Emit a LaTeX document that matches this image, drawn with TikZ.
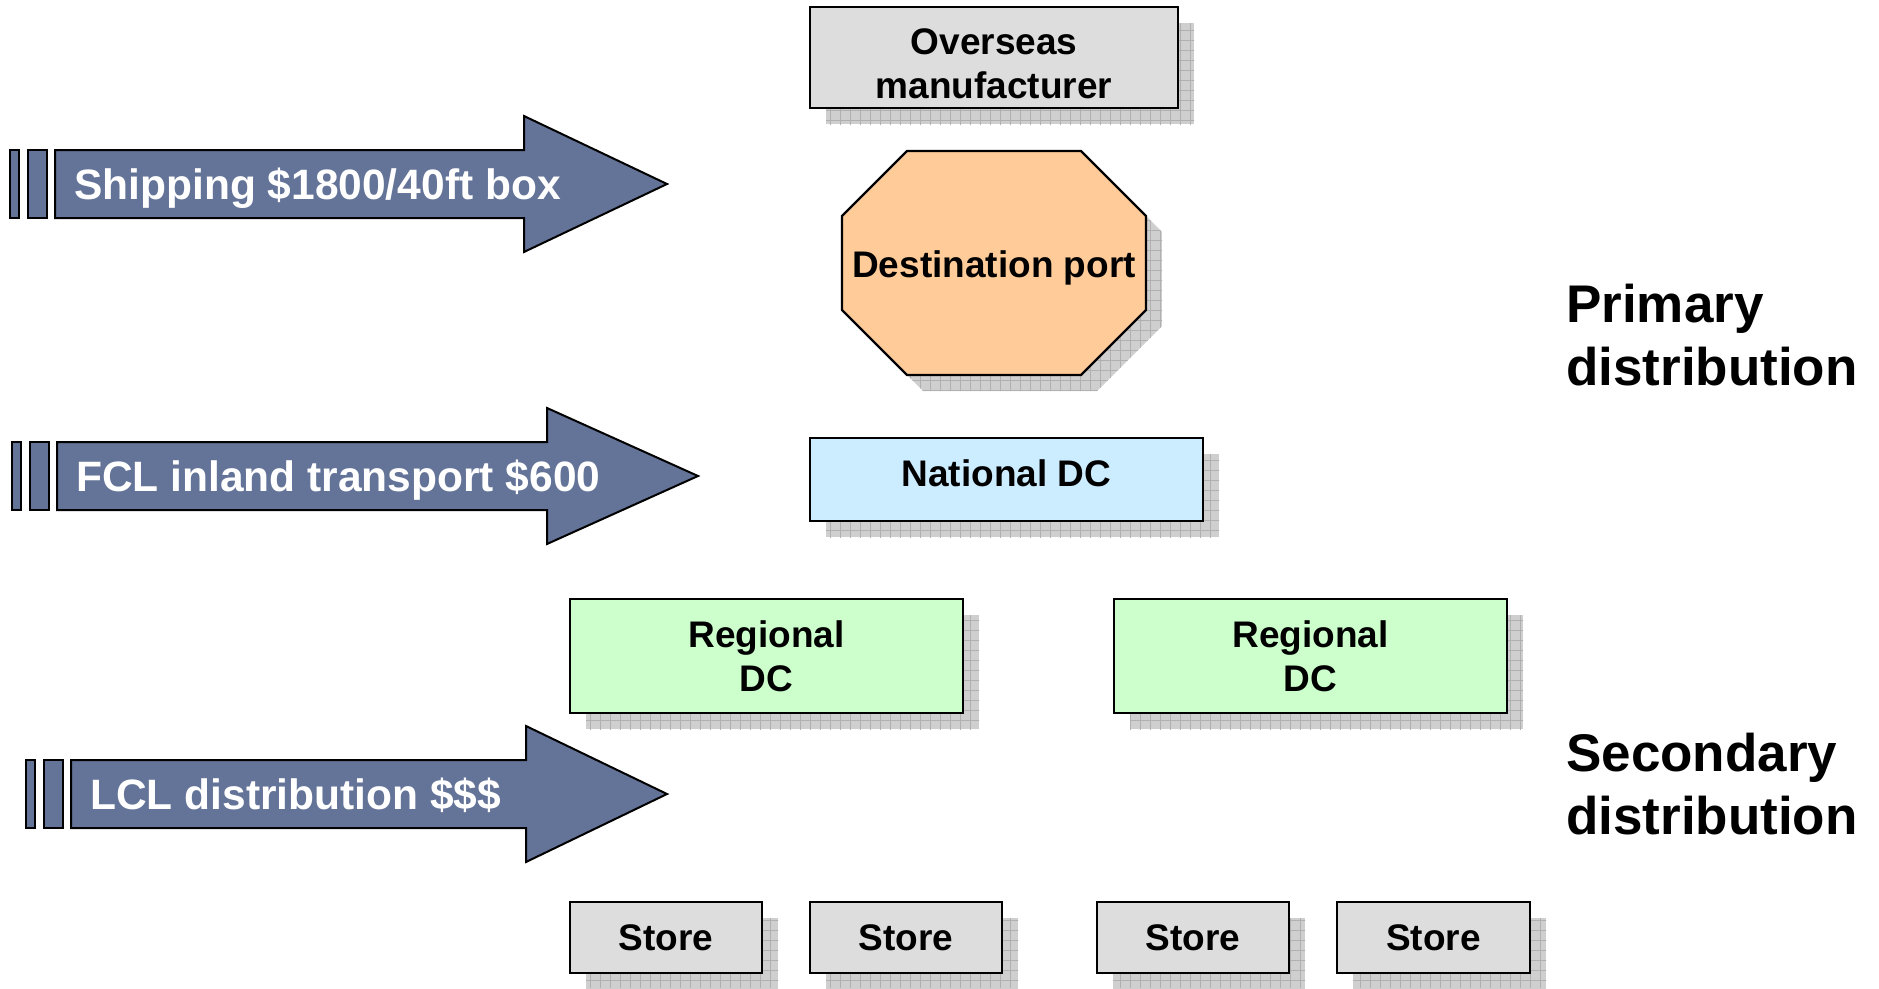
\documentclass[tikz,border=0pt]{standalone}
\usepackage{fontspec}
\setmainfont{Liberation Sans}
\definecolor{boxgray}{RGB}{221,221,221}
\definecolor{portorange}{RGB}{255,204,153}
\definecolor{natblue}{RGB}{204,236,255}
\definecolor{reggreen}{RGB}{204,255,204}
\definecolor{costblue}{RGB}{100,115,152}
\def\shoff{16}
\def\yRow{902}
\def\yEnd{973}
\tikzset{
  dnbox/.style={draw, line width=2.2pt, font=\bfseries\fontsize{37}{44}\selectfont, align=center, inner sep=0pt},
  dnshadow/.style={fill=gray!38},
  dngrid/.style={draw=gray!62, line width=0.5pt},
  costbar/.style={draw, line width=2pt, fill=costblue},
  costlbl/.style={text=white, font=\bfseries\fontsize{42.5}{50}\selectfont, inner sep=0pt, anchor=base west},
  sidelbl/.style={font=\bfseries\fontsize{53}{63}\selectfont, align=left, inner sep=0pt, anchor=north west},
}
\newcommand{\dnshade}[1]{%
  \begin{scope}
    \clip #1;
    \fill[dnshadow] #1;
    \draw[dngrid, step=10pt] (0,988) grid (1879,0);
  \end{scope}}
\newcommand{\dnnode}[8][]{%
  \dnshade{(#3+\shoff,#4+\shoff) rectangle (#5+\shoff,#6+\shoff)}
  \node[dnbox, fill=#7, minimum width={#5-#3}, minimum height={#6-#4}, #1] (#2) at ({(#3+#5)/2},{(#4+#6)/2}) {#8};}
\newcommand{\costarrow}[6]{%
  \draw[costbar] (#2-45,#3-34) rectangle (#2-36,#3+34);
  \draw[costbar] (#2-27,#3-34) rectangle (#2-8,#3+34);
  \draw[costbar] (#2,#3-34) -- (#4,#3-34) -- (#4,#3-68) -- (#5,#3) -- (#4,#3+68) -- (#4,#3+34) -- (#2,#3+34) -- cycle;
  \node[costlbl] (#1) at (#2+19,#3+15) {#6};}

\begin{document}
\begin{tikzpicture}[x=1pt, y=-1pt]
  \useasboundingbox (0,0) rectangle (1879,988);

  % cost arrows
  \costarrow{ship}{55}{184}{524}{667}{Shipping \$1800/40ft box}
  \costarrow{fcl}{57}{476}{547}{698}{FCL inland transport \$600}
  \costarrow{lcl}{71}{794}{526}{667}{LCL distribution \$\$\$}

  % chain
  \dnnode[text height=83pt]{maker}{810}{7}{1178}{108}{boxgray}{Overseas\\manufacturer}
  \dnshade{(923,167) -- (1097,167) -- (1162,232) -- (1162,326) -- (1097,391) -- (923,391) -- (858,326) -- (858,232) -- cycle}
  \draw[dnbox, fill=portorange] (907,151) -- (1081,151) -- (1146,216) -- (1146,310) -- (1081,375) -- (907,375) -- (842,310) -- (842,216) -- cycle;
  \node[font=\bfseries\fontsize{37}{44}\selectfont, inner sep=0pt] (port) at (994,268) {Destination port};
  \dnnode[text depth=12pt]{natdc}{810}{438}{1203}{521}{natblue}{National DC}
  \dnnode{regA}{570}{599}{963}{713}{reggreen}{Regional\\DC}
  \dnnode{regB}{1114}{599}{1507}{713}{reggreen}{Regional\\DC}
  \dnnode{storeA}{570}{\yRow}{762}{\yEnd}{boxgray}{Store}
  \dnnode{storeB}{810}{\yRow}{1002}{\yEnd}{boxgray}{Store}
  \dnnode{storeC}{1097}{\yRow}{1289}{\yEnd}{boxgray}{Store}
  \dnnode{storeD}{1337}{\yRow}{1530}{\yEnd}{boxgray}{Store}

  % tiers
  \node[sidelbl] (primary) at (1566,284) {Primary\\distribution};
  \node[sidelbl] (secondary) at (1566,733) {Secondary\\distribution};
\end{tikzpicture}
\end{document}
